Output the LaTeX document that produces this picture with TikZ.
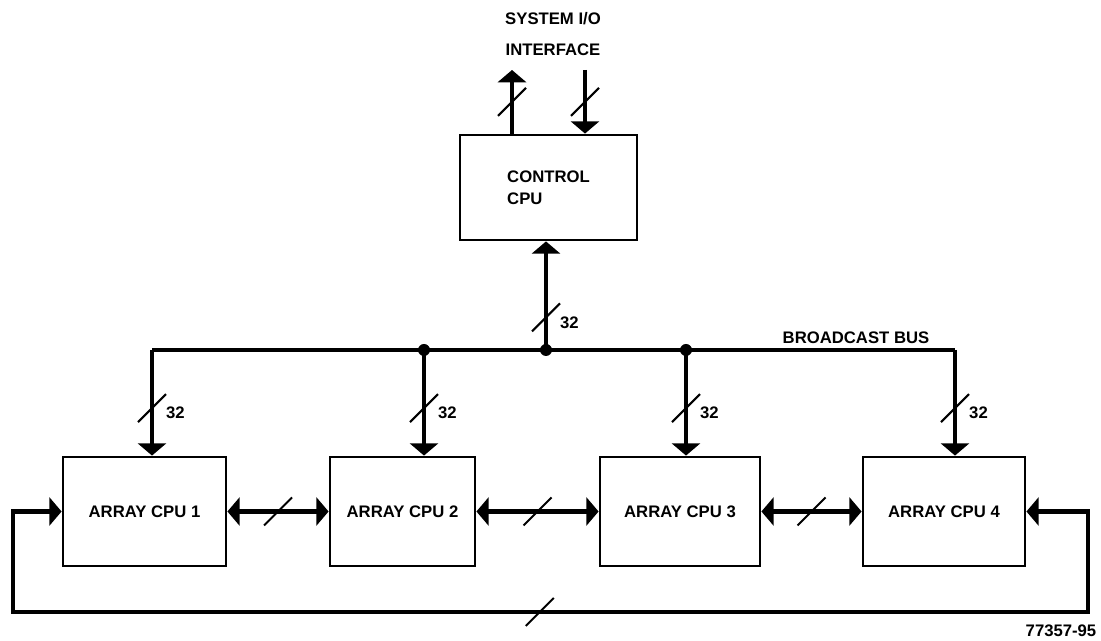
\documentclass[tikz,border=0pt]{standalone}
\usepackage{fontspec}
\setmainfont{Liberation Sans}
\usetikzlibrary{arrows.meta}

\tikzset{
  cpubox/.style={draw, line width=1.6pt, minimum height=2.18cm, font=\bfseries\fontsize{9.5}{11.5}\selectfont},
  txt/.style={font=\bfseries\fontsize{9.5}{11.5}\selectfont},
  busline/.style={line width=2.4pt},
  cutline/.style={line width=1.2pt},
  >={Triangle[width=16pt,length=7pt]}
}

\begin{document}
\begin{tikzpicture}
        \useasboundingbox (0,0) rectangle (22.02,12.82);
        % control processor and its I/O
        \node[cpubox, minimum width=3.54cm, minimum height=2.1cm, align=left] (ctrl) at (10.97,9.07) {CONTROL\\[1pt]CPU};
        \node[txt, align=center] (sysio) at (11.06,12.14) {SYSTEM I/O\\[6.5pt]INTERFACE};
        \coordinate (io out) at (10.24,11.42);
        \coordinate (io in) at (11.7,11.42);
        \draw[busline,->] (ctrl.north -| io out) -- coordinate[pos=0.5] (m out) (io out);
        \draw[busline,->] (io in) -- coordinate[pos=0.5] (m in) (ctrl.north -| io in);
        \foreach \m in {m out, m in} {
                \draw[cutline] (\m) +(-.28,-.28) -- +(.28,.28);
        }
        % broadcast bus
        \coordinate (b1) at (3.04,5.82);
        \coordinate (b2) at (8.48,5.82);
        \coordinate (b0) at (10.92,5.82);
        \coordinate (b3) at (13.72,5.82);
        \coordinate (b4) at (19.1,5.82);
        \draw[busline] (b1) -- (b4);
        \foreach \p in {b2,b0,b3} {
                \fill (\p) circle (0.12);
        }
        \node[txt] (bbus) at (17.12,6.06) {BROADCAST BUS};
        \draw[busline,->] (b0) -- coordinate[pos=0.3] (m0) (b0 |- ctrl.south);
        \draw[cutline] (m0) +(-.28,-.28) -- +(.28,.28);
        \node[txt, right] (w0) at ([xshift=0.16cm,yshift=-0.1cm]m0) {32};
        % array processors
        \foreach \n/\x/\w in {1/2.89/3.26, 2/8.05/2.9, 3/13.6/3.2, 4/18.88/3.24} {
                \node[cpubox, minimum width=\w cm] (cpu\n) at (\x,2.59) {ARRAY CPU \n};
        }
        \foreach \n in {1,2,3,4} {
                \draw[busline,->] (b\n) -- coordinate[pos=0.55] (m\n) (b\n |- cpu\n.north);
                \draw[cutline] (m\n) +(-.28,-.28) -- +(.28,.28);
                \node[txt, right] (w\n) at ([xshift=0.16cm,yshift=-0.1cm]m\n) {32};
        }
        \foreach \a/\b in {1/2,2/3,3/4} {
                \draw[busline,<->] (cpu\a.east) -- coordinate[pos=0.5] (h\a) (cpu\b.west);
                \draw[cutline] (h\a) +(-.28,-.28) -- +(.28,.28);
        }
        % ring back from 4 to 1
        \coordinate (ring r) at (21.76,0.58);
        \coordinate (ring l) at (0.26,0.58);
        \draw[busline,<->] (cpu4.east) -| (ring r) -- coordinate[pos=0.51] (mr) (ring l) |- (cpu1.west);
        \draw[cutline] (mr) +(-.28,-.28) -- +(.28,.28);
        \node[txt] (fig) at (21.22,0.2) {77357-95};
\end{tikzpicture}
\end{document}
